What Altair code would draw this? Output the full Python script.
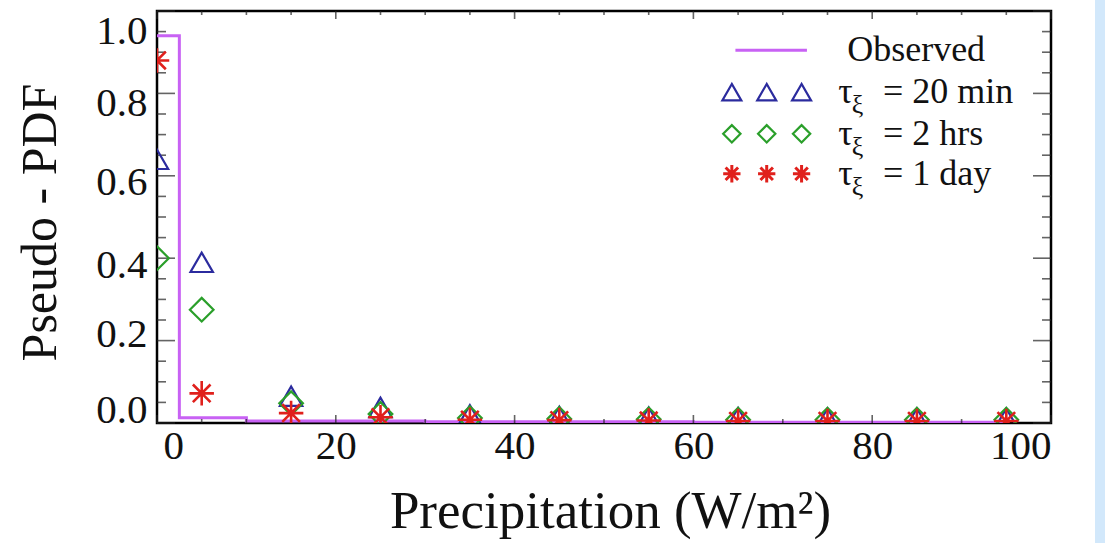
import altair as alt
import pandas as pd

# Bin centres of the precipitation histogram (W/m^2)
precip = [0, 5, 15, 25, 35, 45, 55, 65, 75, 85, 95]

# Observed pseudo-PDF (drawn as a histogram-style step line)
observed = [0.94, 0.013, 0.005, 0.005, 0.003, 0.003, 0.003, 0.002, 0.002, 0.002, 0.002]

# Model pseudo-PDFs for three decorrelation times
tau_20min = [0.64, 0.39, 0.065, 0.038, 0.020, 0.016, 0.014, 0.013, 0.012, 0.012, 0.012]
tau_2hrs = [0.40, 0.275, 0.048, 0.022, 0.012, 0.010, 0.009, 0.008, 0.008, 0.008, 0.008]
tau_1day = [0.88, 0.072, 0.024, 0.014, 0.008, 0.007, 0.006, 0.005, 0.005, 0.005, 0.005]

series_labels = ["20 min", "2 hrs", "1 day"]

# Axis ticks
x_major = [0, 20, 40, 60, 80, 100]
x_minor = [v for v in range(0, 101, 5) if v % 20]
y_major = [0.0, 0.2, 0.4, 0.6, 0.8, 1.0]
y_minor = [round(0.05 * k, 2) for k in range(21) if k % 4]

# Layout / style
FONT = "Liberation Serif"
W, H = 894, 412
C_OBS = "#c862f4"
C_20MIN = "#2b2b9e"
C_2HRS = "#2a9f2a"
C_1DAY = "#e0201c"
STAR = "M-1,0L1,0M0,-1L0,1M-0.72,-0.72L0.72,0.72M-0.72,0.72L0.72,-0.72"

# Legend placement (data units)
LEG_SYM_X = [64.3, 68.2, 72.1]
LEG_ROW_Y = [0.905, 0.803, 0.702, 0.605]
LEG_LINE_X = [64.7, 72.7]
LEG_TAU_X, LEG_XI_X, LEG_EQ_X, LEG_OBS_X = 76.2, 77.7, 81.2, 77.2

x_scale = alt.Scale(domain=[0, 100], nice=False, zero=False)
y_scale = alt.Scale(domain=[0, 1.0], nice=False, zero=False)

x_axis = alt.Axis(
    values=x_major, format="d", title="Precipitation (W/m²)",
    domain=False, ticks=False, grid=False,
    labelFont=FONT, labelFontSize=41, labelColor="#111", labelPadding=3,
    labelOffset={"condition": {"test": "datum.value < 1", "value": 6}, "value": 0},
    titleFont=FONT, titleFontSize=53, titleFontWeight="normal", titleColor="#111",
    titleX=453, titleY=104, titleAlign="center", titleBaseline="alphabetic",
)
# tick labels sit slightly inward from the end ticks
y_axis = alt.Axis(
    values=y_major, format=".1f", title="Pseudo - PDF",
    domain=False, ticks=False, grid=False,
    labelFont=FONT, labelFontSize=41, labelColor="#111", labelPadding=10,
    labelOffset={
        "condition": [
            {"test": "datum.value > 0.9", "value": 20},
            {"test": "datum.value > 0.7", "value": 10},
            {"test": "datum.value > 0.5", "value": 7},
            {"test": "datum.value > 0.3", "value": 7},
            {"test": "datum.value > 0.1", "value": -6},
        ],
        "value": -13,
    },
    titleFont=FONT, titleFontSize=50, titleFontWeight="normal", titleColor="#111",
    titleAngle=270, titleX=-102, titleY=211, titleAlign="center", titleBaseline="alphabetic",
)

X = lambda f: alt.X(f, type="quantitative", scale=x_scale, axis=x_axis)
Y = lambda f: alt.Y(f, type="quantitative", scale=y_scale, axis=y_axis)

data = pd.DataFrame({
    "p": precip, "obs": observed,
    "m20": tau_20min, "h2": tau_2hrs, "d1": tau_1day,
})

# Observed step line
obs_line = alt.Chart(data).mark_line(
    interpolate="step", color=C_OBS, strokeWidth=3, clip=True
).encode(x=X("p"), y=Y("obs"))


def markers(field, shape, color, size, width):
    return alt.Chart(data).mark_point(
        shape=shape, filled=False, stroke=color, strokeWidth=width,
        size=size, opacity=1, clip=True,
    ).encode(x=X("p"), y=Y(field))


pts_20min = markers("m20", "triangle-up", C_20MIN, 500, 2.2)
pts_2hrs = markers("h2", "diamond", C_2HRS, 560, 2.2)
pts_1day = markers("d1", STAR, C_1DAY, 600, 2.6)

# Inward-pointing ticks on all four sides of the frame
ydf_major = pd.DataFrame({"v": y_major})
ydf_minor = pd.DataFrame({"v": y_minor})
xdf_major = pd.DataFrame({"v": x_major})
xdf_minor = pd.DataFrame({"v": x_minor})


def yticks(df, edge, length, sign):
    return alt.Chart(df).mark_tick(
        orient="horizontal", size=length, thickness=1.6, color="#222",
        xOffset=sign * length / 2,
    ).encode(x=alt.XDatum(edge, scale=x_scale, axis=x_axis), y=Y("v"))


def xticks(df, edge, length, sign):
    return alt.Chart(df).mark_tick(
        orient="vertical", size=length, thickness=1.6, color="#222",
        yOffset=sign * length / 2,
    ).encode(x=X("v"), y=alt.YDatum(edge, scale=y_scale, axis=y_axis))


ticks = [
    yticks(ydf_major, 0, 18, 1), yticks(ydf_minor, 0, 9, 1),
    yticks(ydf_major, 100, 18, -1), yticks(ydf_minor, 100, 9, -1),
    xticks(xdf_major, 0, 8, -1), xticks(xdf_minor, 0, 4, -1),
    xticks(xdf_major, 1.0, 8, 1), xticks(xdf_minor, 1.0, 4, 1),
]

# Legend
leg_line = alt.Chart(pd.DataFrame({
    "x": [LEG_LINE_X[0]], "x2": [LEG_LINE_X[1]], "y": [LEG_ROW_Y[0]],
})).mark_rule(color=C_OBS, strokeWidth=3).encode(
    x=X("x"), x2="x2", y=Y("y"),
)


def leg_markers(row, shape, color, size, width):
    df = pd.DataFrame({"x": LEG_SYM_X, "y": [LEG_ROW_Y[row]] * len(LEG_SYM_X)})
    return alt.Chart(df).mark_point(
        shape=shape, filled=False, stroke=color, strokeWidth=width,
        size=size, opacity=1,
    ).encode(x=X("x"), y=Y("y"))


leg_pts = [
    leg_markers(1, "triangle-up", C_20MIN, 360, 2.2),
    leg_markers(2, "diamond", C_2HRS, 300, 2.2),
    leg_markers(3, STAR, C_1DAY, 300, 3.0),
]

main_text = pd.DataFrame({
    "x": [LEG_OBS_X] + [LEG_TAU_X] * 3 + [LEG_EQ_X] * 3,
    "y": [LEG_ROW_Y[0]] + LEG_ROW_Y[1:] + LEG_ROW_Y[1:],
    "t": ["Observed"] + ["τ"] * 3 + ["= " + s for s in series_labels],
})
sub_text = pd.DataFrame({
    "x": [LEG_XI_X] * 3, "y": LEG_ROW_Y[1:], "t": ["ξ"] * 3,
})

leg_text = alt.Chart(main_text).mark_text(
    font=FONT, fontSize=36, color="#111", align="left", baseline="middle",
).encode(x=X("x"), y=Y("y"), text="t:N")
leg_sub = alt.Chart(sub_text).mark_text(
    font=FONT, fontSize=26, color="#111", align="left", baseline="middle", dy=13,
).encode(x=X("x"), y=Y("y"), text="t:N")

# Light strip along the right edge of the page
strip = alt.Chart(pd.DataFrame({"a": [0]})).mark_rect(color="#d2e8fb").encode(
    x=alt.value(938), x2=alt.value(948), y=alt.value(-11), y2=alt.value(532),
)

chart = alt.layer(
    obs_line, *ticks, pts_20min, pts_2hrs, pts_1day,
    leg_line, *leg_pts, leg_text, leg_sub, strip,
).properties(
    width=W, height=H,
    autosize=alt.AutoSizeParams(type="none"),
    padding={"left": 157, "top": 11, "right": 54, "bottom": 120},
    background="white",
).configure_view(
    stroke="black", strokeWidth=2.5,
)

chart.save("out.html", embed_options={"renderer": "svg", "actions": False})
